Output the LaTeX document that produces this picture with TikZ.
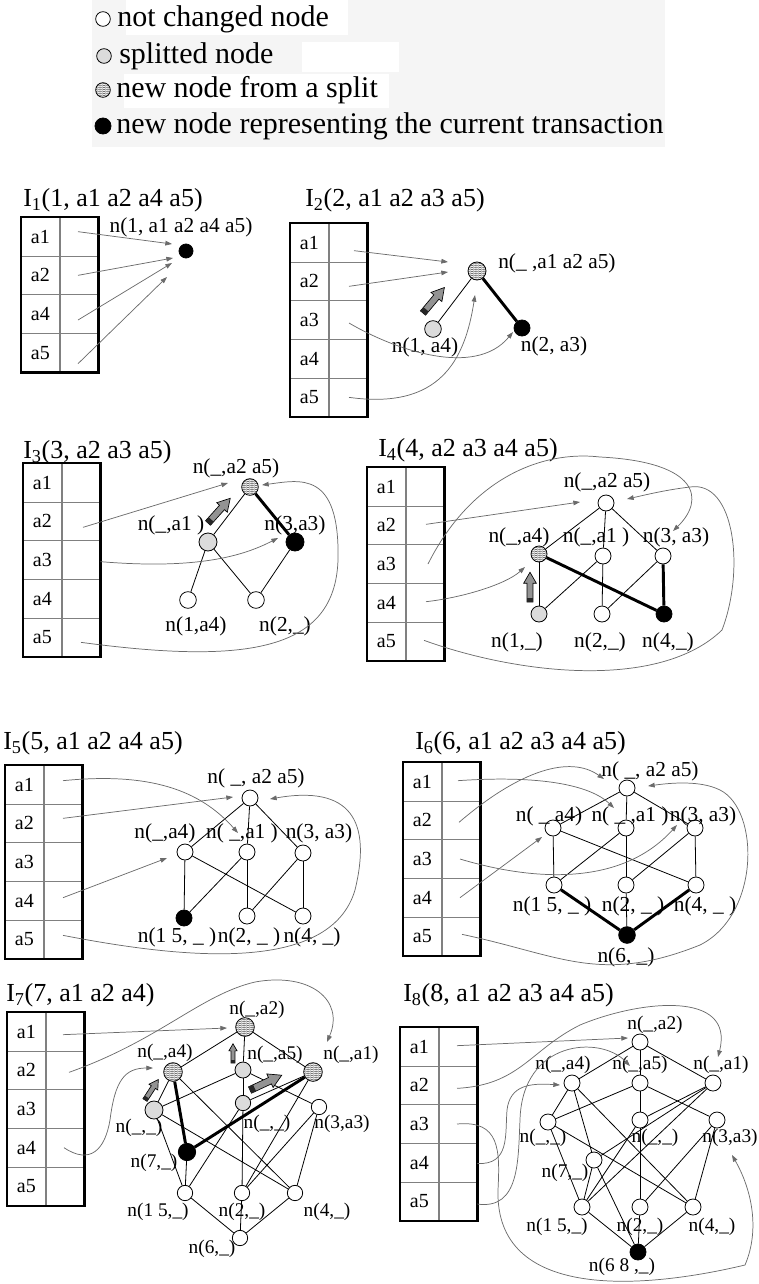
\documentclass[tikz,border=0pt]{standalone}
\usepackage{fontspec}
\setmainfont{Liberation Serif}
\usetikzlibrary{arrows.meta, positioning, calc, shapes.geometric, patterns.meta}

\tikzdeclarepattern{
  name=zigzag,
  type=uncolored,
  bounding box={(0pt,-0.3pt) and (2pt,1.3pt)},
  tile size={(2pt,1.5pt)},
  code={\draw[line width=0.3pt] (0pt,0pt) -- (1pt,0.9pt) -- (2pt,0pt);}
}

\tikzset{
  splitarrow/.pic={
    \draw[fill=gray!85, line width=0.5pt] (0,-3.5) -- (22,-3.5) -- (22,-7.5) -- (35,0) -- (22,7.5) -- (22,3.5) -- (0,3.5) -- cycle;
    \fill[black!85] (0,-3.5) rectangle (5,3.5);
  }
}

\begin{document}
\begin{tikzpicture}[
  x=0.75pt, y=-0.75pt,
  every node/.style={inner sep=0pt},
  lbl/.style={font=\rmfamily\fontsize{16}{18}\selectfont},
  slbl/.style={font=\rmfamily\fontsize{14.5}{16}\selectfont},
  ttl/.style={font=\rmfamily\fontsize{19.5}{22}\selectfont, anchor=west},
  lgtext/.style={font=\rmfamily\fontsize{22.5}{25}\selectfont, anchor=west},
  lat/.style={circle, draw, line width=0.6pt, minimum size=12pt, fill=white},
  kept/.style={lat},
  splitted/.style={lat, fill=gray!28},
  fresh/.style={lat, preaction={fill=white}, pattern=zigzag, pattern color=black!75},
  current/.style={lat, fill=black},
  ov/.style={ellipse, minimum width=#1},
  edge/.style={line width=0.6pt},
  heavy/.style={line width=2.2pt},
  ptr/.style={draw=black!58, line width=0.55pt, -{Triangle[length=5pt, width=3.5pt]}},
  key/.style={draw=black!50, line width=0.5pt, minimum width=28.5pt, minimum height=29pt,
    font=\rmfamily\fontsize{15}{17}\selectfont, anchor=north west},
  slot/.style={draw=black!50, line width=0.5pt, minimum width=28.5pt, minimum height=29pt, anchor=north west},
  frame/.style={line width=1.9pt},
]
\useasboundingbox (0,0) rectangle (759,1284);

% legend
\fill[black!4] (92,0) rectangle (665,147);
\fill[white] (126,0) rectangle (348,35);
\fill[white] (302,42) rectangle (399,72);
\fill[white] (124,74) rectangle (389,108);
\node[kept, minimum size=11pt] (lg1) at (103,19) {};
\node[splitted, minimum size=11pt] (lg2) at (104,56) {};
\node[fresh, minimum size=11pt] (lg3) at (103,90) {};
\node[current, minimum size=12pt] (lg4) at (103,126) {};
\node[lgtext] (lt1) at (117,19) {not changed node};
\node[lgtext] (lt2) at (119,56) {splitted node};
\node[lgtext] (lt3) at (116,90) {new node from a split};
\node[lgtext] (lt4) at (116,126) {new node representing the current transaction};

% I1
\node[ttl] (h1) at (23,200) {I\textsubscript{1}(1, a1 a2 a4 a5)};
\foreach \k [count=\i from 0] in {a1,a2,a4,a5}{
  \node[key] (k1\k) at (21,{217+38.67*\i}) {\k};
  \node[slot, right=0pt of k1\k] (p1\k) {};
}
\draw[frame] (k1a1.north west) rectangle (p1a5.south east);
\node[current, minimum size=10.5pt] (n1) at (186,251) {};
\node[lbl] (l1) at (181,227) {n(1, a1 a2 a4 a5)};
\draw[ptr] ($(p1a1)+(-1,-5)$) -- ($(n1)+(-14,-7)$);
\draw[ptr] ($(p1a2)+(-1,0)$) -- ($(n1)+(-13,7)$);
\draw[ptr] ($(p1a4)+(-1,6)$) -- ($(n1)+(-14,12)$);
\draw[ptr] ($(p1a5)+(-1,11)$) -- ($(n1)+(-19,26)$);

% I2
\node[ttl] (h2) at (305,200) {I\textsubscript{2}(2, a1 a2 a3 a5)};
\foreach \k [count=\i from 0] in {a1,a2,a3,a4,a5}{
  \node[key] (k2\k) at (290,{223+38.67*\i}) {\k};
  \node[slot, right=0pt of k2\k] (p2\k) {};
}
\draw[frame] (k2a1.north west) rectangle (p2a5.south east);
\node[fresh, minimum size=13.5pt] (f2) at (477,271) {};
\node[splitted, minimum size=12.5pt] (s2) at (433,329) {};
\node[current, minimum size=12pt] (c2) at (522,328) {};
\node[lbl, anchor=west] (lf2) at (498,263) {n(\_ ,a1 a2 a5)};
\node[lbl] (ls2) at (425,347) {n(1, a4)};
\node[lbl] (lc2) at (554,346) {n(2, a3)};
\draw[edge] (s2) -- (f2);
\draw[heavy] (f2) -- (c2);
\pic[rotate=50, scale=0.95] at (423,313) {splitarrow};
\draw[ptr] ($(p2a1)+(6,8)$) -- ($(f2)+(-29,-9)$);
\draw[ptr] ($(p2a2)+(1,5)$) -- ($(f2)+(-29,1)$);
\draw[ptr] ($(p2a3)+(1,3)$) .. controls (395,350) and (475,378) .. ($(c2)+(-9,4)$);
\draw[ptr] ($(p2a5)+(1,0)$) .. controls (440,410) and (465,360) .. ($(f2)+(-2,24)$);

% I3
\node[ttl] (h3) at (23,452) {I\textsubscript{3}(3, a2 a3 a5)};
\foreach \k [count=\i from 0] in {a1,a2,a3,a4,a5}{
  \node[key] (k3\k) at (23,{463+38.67*\i}) {\k};
  \node[slot, right=0pt of k3\k] (p3\k) {};
}
\draw[frame] (k3a1.north west) rectangle (p3a5.south east);
\node[fresh, minimum size=12.5pt] (f3) at (250,487) {};
\node[splitted, minimum size=13.5pt] (s3) at (208,542) {};
\node[current, minimum size=13.5pt] (c3) at (295,542) {};
\node[kept, minimum size=12.5pt] (o3a) at (188,600) {};
\node[kept, minimum size=12.5pt] (o3b) at (256,600) {};
\node[lbl] (lf3) at (236,468) {n(\_,a2 a5)};
\node[lbl] (ls3) at (171,525) {n(\_,a1 )};
\node[lbl] (lc3) at (295,525) {n(3,a3)};
\node[lbl] (lo3a) at (196,626) {n(1,a4)};
\node[lbl] (lo3b) at (285,626) {n(2,\_)};
\draw[edge] (s3) -- (f3);
\draw[heavy] (f3) -- (c3);
\draw[edge] (s3) -- (o3a);
\draw[edge] (s3) -- (o3b);
\draw[edge] (c3) -- (o3b);
\pic[rotate=48, scale=0.95] at (208,523) {splitarrow};
\draw[ptr] ($(p3a2)+(2,6)$) -- ($(f3)+(-22,-4)$);
\draw[ptr] (p3a3) .. controls (200,570) and (245,555) .. ($(c3)+(-17,-4)$);
\draw[ptr] ($(p3a5)+(0,5)$) .. controls (250,665) and (335,650) .. (338,560)
  .. controls (340,470) and (300,480) .. ($(f3)+(12,-2)$);

% I4
\node[ttl] (h4) at (378,450) {I\textsubscript{4}(4, a2 a3 a4 a5)};
\foreach \k [count=\i from 0] in {a1,a2,a3,a4,a5}{
  \node[key] (k4\k) at (367,{467+38.67*\i}) {\k};
  \node[slot, right=0pt of k4\k] (p4\k) {};
}
\draw[frame] (k4a1.north west) rectangle (p4a5.south east);
\node[kept] (t4) at (606,503) {};
\node[fresh] (f4) at (539,554) {};
\node[kept] (m4) at (603,556) {};
\node[kept] (r4) at (663,556) {};
\node[splitted] (s4) at (539,614) {};
\node[kept] (b4) at (602,614) {};
\node[current] (c4) at (664,614) {};
\node[lbl] (lt4a) at (607,482) {n(\_,a2 a5)};
\node[lbl] (lf4) at (519,537) {n(\_,a4)};
\node[lbl] (lm4) at (596,537) {n(\_,a1 )};
\node[lbl] (lr4) at (676,537) {n(3, a3)};
\node[lbl] (ls4) at (517,642) {n(1,\_)};
\node[lbl] (lb4) at (600,642) {n(2,\_)};
\node[lbl] (lc4) at (668,642) {n(4,\_)};
\draw[edge] (t4) -- (f4);
\draw[edge] (t4) -- (m4);
\draw[edge] (t4) -- (r4);
\draw[edge] (f4) -- (s4);
\draw[edge] (m4) -- (s4);
\draw[edge] (m4) -- (b4);
\draw[edge] (r4) -- (b4);
\draw[heavy] (f4) -- (c4);
\draw[heavy] (r4) -- (c4);
\pic[rotate=90, scale=0.85] at (530,602) {splitarrow};
\draw[ptr] ($(p4a2)+(1,-1)$) -- ($(t4)+(-26,-1)$);
\draw[ptr] ($(p4a3)+(3,0)$) .. controls (470,480) and (540,450) .. (600,457)
  .. controls (700,462) and (705,500) .. ($(r4)+(10,-25)$);
\draw[ptr] ($(p4a4)+(1,-1)$) .. controls (460,598) and (505,585) .. ($(f4)+(-14,13)$);
\draw[ptr] ($(p4a5)+(-1,-1)$) .. controls (520,675) and (660,690) .. (722,630)
  .. controls (745,570) and (735,480) .. (690,487)
  .. controls (665,490) and (645,495) .. ($(t4)+(21,-4)$);

% I5
\node[ttl] (h5) at (3,743) {I\textsubscript{5}(5, a1 a2 a4 a5)};
\foreach \k [count=\i from 0] in {a1,a2,a3,a4,a5}{
  \node[key] (k5\k) at (5,{765+38.67*\i}) {\k};
  \node[slot, right=0pt of k5\k] (p5\k) {};
}
\draw[frame] (k5a1.north west) rectangle (p5a5.south east);
\begin{scope}[every node/.append style={ov=10pt, minimum height=11.5pt}]
  \node[kept] (t5) at (250,798) {};
  \node[kept] (l5) at (185,852) {};
  \node[kept] (m5) at (247,852) {};
  \node[kept] (r5) at (303,853) {};
  \node[current] (bl5) at (184,918) {};
  \node[kept] (bm5) at (247,916) {};
  \node[kept] (br5) at (303,916) {};
\end{scope}
\node[lbl] (lt5) at (256,778) {n( \_, a2 a5)};
\node[lbl] (ll5) at (165,833) {n(\_,a4)};
\node[lbl] (lm5) at (242,833) {n( \_,a1 )};
\node[lbl] (lr5) at (319,833) {n(3, a3)};
\node[lbl] (lbl5) at (177,937) {n(1 5, \_ )};
\node[lbl] (lbm5) at (249,937) {n(2, \_ )};
\node[lbl] (lbr5) at (312,937) {n(4, \_)};
\draw[edge] (t5) -- (l5);
\draw[edge] (t5) -- (m5);
\draw[edge] (t5) -- (r5);
\draw[edge] (l5) -- (bl5);
\draw[edge] (l5) -- (br5);
\draw[edge] (m5) -- (bl5);
\draw[edge] (m5) -- (bm5);
\draw[edge] (r5) -- (bm5);
\draw[edge] (r5) -- (br5);
\draw[ptr] ($(p5a1)+(0,-4)$) .. controls (150,772) and (200,790) .. ($(m5)+(-9,-19)$);
\draw[ptr] ($(p5a2)+(0,-5)$) -- ($(t5)+(-17,-1)$);
\draw[ptr] ($(p5a4)+(0,-3)$) -- ($(l5)+(-18,6)$);
\draw[ptr] ($(p5a5)+(0,-4)$) .. controls (180,958) and (330,975) .. (355,890)
  .. controls (372,820) and (350,785) .. ($(t5)+(20,1)$);

% I6
\node[ttl] (h6) at (415,743) {I\textsubscript{6}(6, a1 a2 a3 a4 a5)};
\foreach \k [count=\i from 0] in {a1,a2,a3,a4,a5}{
  \node[key] (k6\k) at (403,{762+38.67*\i}) {\k};
  \node[slot, right=0pt of k6\k] (p6\k) {};
}
\draw[frame] (k6a1.north west) rectangle (p6a5.south east);
\begin{scope}[every node/.append style={ov=11.25pt, minimum height=13.5pt}]
  \node[kept] (t6) at (627,788) {};
  \node[kept] (l6) at (553,828) {};
  \node[kept] (m6) at (626,828) {};
  \node[kept] (r6) at (695,828) {};
  \node[kept] (bl6) at (554,885) {};
  \node[kept] (bm6) at (626,885) {};
  \node[kept] (br6) at (696,885) {};
  \node[current, minimum height=12.5pt] (k6) at (627,935) {};
\end{scope}
\node[lbl] (lt6) at (650,771) {n( \_, a2 a5)};
\node[lbl] (ll6) at (549,816) {n( \_ a4)};
\node[lbl] (lm6) at (630,816) {n( \_ ,a1 )};
\node[lbl] (lr6) at (703,816) {n(3, a3)};
\node[lbl] (lbl6) at (552,906) {n(1 5, \_ )};
\node[lbl] (lbm6) at (633,906) {n(2, \_ )};
\node[lbl] (lbr6) at (705,906) {n(4, \_ )};
\node[lbl] (lk6) at (626,957) {n(6, \_)};
\draw[edge] (t6) -- (l6);
\draw[edge] (t6) -- (m6);
\draw[edge] (t6) -- (r6);
\draw[edge] (l6) -- (bl6);
\draw[edge] (l6) -- (br6);
\draw[edge] (m6) -- (bl6);
\draw[edge] (m6) -- (bm6);
\draw[edge] (r6) -- (bm6);
\draw[edge] (r6) -- (br6);
\draw[edge] (bm6) -- (k6);
\draw[heavy] (bl6) -- (k6);
\draw[heavy] (br6) -- (k6);
\draw[ptr] ($(p6a1)+(-3,-1)$) .. controls (540,775) and (590,785) .. ($(m6)+(-12,-20)$);
\draw[ptr] ($(p6a2)+(-2,2)$) .. controls (520,770) and (570,755) .. ($(t6)+(-23,-9)$);
\draw[ptr] ($(p6a3)+(-1,0)$) .. controls (530,880) and (620,888) .. ($(r6)+(-18,-3)$);
\draw[ptr] ($(p6a4)+(-1,0)$) -- ($(l6)+(-11,9)$);
\draw[ptr] ($(p6a5)+(1,-2)$) .. controls (560,955) and (600,985) .. (700,945)
  .. controls (760,915) and (760,810) .. (720,790)
  .. controls (700,780) and (670,783) .. ($(t6)+(21,-2)$);

% I7
\node[ttl] (h7) at (6,995) {I\textsubscript{7}(7, a1 a2 a4)};
\foreach \k [count=\i from 0] in {a1,a2,a3,a4,a5}{
  \node[key] (k7\k) at (7,{1012+38.67*\i}) {\k};
  \node[slot, right=0pt of k7\k] (p7\k) {};
}
\draw[frame] (k7a1.north west) rectangle (p7a5.south east);
\node[fresh, minimum size=14pt] (t7) at (245,1027) {};
\node[fresh, minimum size=14pt] (l7) at (173,1072) {};
\node[splitted, minimum size=12pt] (m7) at (243,1070) {};
\node[fresh, minimum size=14pt] (r7) at (313,1072) {};
\node[splitted, minimum size=13.5pt] (l7b) at (154,1110) {};
\node[splitted, minimum size=11.5pt] (m7b) at (243,1103) {};
\node[kept, minimum size=11.5pt] (r7b) at (319,1107) {};
\node[current, minimum size=13pt] (k7) at (187,1152) {};
\node[kept, minimum size=11.5pt] (bl7) at (185,1193) {};
\node[kept, minimum size=11.5pt] (bm7) at (242,1193) {};
\node[kept, minimum size=11.5pt] (br7) at (295,1193) {};
\node[kept, minimum size=11.5pt] (b7) at (240,1238) {};
\node[slbl] (lt7) at (257,1010) {n(\_,a2)};
\node[slbl] (ll7) at (165,1053) {n(\_,a4)};
\node[slbl] (lm7) at (275,1055) {n(\_,a5)};
\node[slbl] (lr7) at (351,1055) {n(\_,a1)};
\node[slbl] (ll7b) at (139,1128) {n(\_,\_)};
\node[slbl] (lm7b) at (267,1124) {n(\_,\_)};
\node[slbl] (lr7b) at (342,1124) {n(3,a3)};
\node[slbl] (lk7) at (154,1163) {n(7,\_)};
\node[slbl] (lbl7) at (158,1212) {n(1 5,\_)};
\node[slbl] (lbm7) at (242,1212) {n(2,\_)};
\node[slbl] (lbr7) at (327,1212) {n(4,\_)};
\node[slbl] (lb7) at (212,1249) {n(6,\_)};
\draw[edge] (t7) -- (l7);
\draw[edge] (t7) -- (m7);
\draw[edge] (t7) -- (r7);
\draw[edge] (l7) -- (l7b);
\draw[edge] (l7) -- (br7);
\draw[edge] (m7) -- (l7b);
\draw[edge] (m7) -- (m7b);
\draw[edge] (m7) -- (r7b);
\draw[edge] (r7) -- (m7b);
\draw[edge] (r7) -- (bm7);
\draw[edge] (l7b) -- (bl7);
\draw[edge] (l7b) -- (br7);
\draw[edge] (m7b) -- (bl7);
\draw[edge] (m7b) -- (bm7);
\draw[edge] (r7b) -- (bm7);
\draw[edge] (r7b) -- (br7);
\draw[edge] (k7) -- (bl7);
\draw[edge] (bl7) -- (b7);
\draw[edge] (bm7) -- (b7);
\draw[edge] (br7) -- (b7);
\draw[heavy] (l7) -- (k7);
\draw[heavy] (r7) -- (k7);
\pic[rotate=57, scale=0.7] at (145,1100) {splitarrow};
\pic[rotate=90, scale=0.55] at (233,1063) {splitarrow};
\pic[rotate=25, scale=1] at (250,1090) {splitarrow};
\draw[ptr] ($(p7a1)+(-2,3)$) -- ($(t7)+(-18,1)$);
\draw[ptr] ($(p7a2)+(4,2)$) .. controls (160,1040) and (200,995) .. (255,982)
  .. controls (310,972) and (345,1000) .. ($(r7)+(14,-30)$);
\draw[ptr] ($(p7a4)+(-1,0)$) .. controls (90,1165) and (105,1150) .. (110,1120)
  .. controls (115,1080) and (125,1068) .. ($(l7)+(-20,-4)$);

% I8
\node[ttl] (h8) at (403,995) {I\textsubscript{8}(8, a1 a2 a3 a4 a5)};
\foreach \k [count=\i from 0] in {a1,a2,a3,a4,a5}{
  \node[key] (k8\k) at (400,{1027+38.67*\i}) {\k};
  \node[slot, right=0pt of k8\k] (p8\k) {};
}
\draw[frame] (k8a1.north west) rectangle (p8a5.south east);
\begin{scope}[every node/.append style={minimum size=11.5pt}]
  \node[kept] (t8) at (640,1042) {};
  \node[kept] (l8) at (572,1083) {};
  \node[kept] (m8) at (640,1083) {};
  \node[kept] (r8) at (713,1083) {};
  \node[kept] (l8b) at (548,1122) {};
  \node[kept] (m8b) at (640,1120) {};
  \node[kept] (r8b) at (717,1120) {};
  \node[kept] (k8) at (594,1160) {};
  \node[kept] (bl8) at (582,1207) {};
  \node[kept] (bm8) at (640,1207) {};
  \node[kept] (br8) at (693,1207) {};
  \node[current] (b8) at (638,1252) {};
\end{scope}
\node[slbl] (lt8) at (655,1025) {n(\_,a2)};
\node[slbl] (ll8) at (563,1065) {n(\_,a4)};
\node[slbl] (lm8) at (640,1065) {n(\_,a5)};
\node[slbl] (lr8) at (721,1065) {n(\_,a1)};
\node[slbl] (ll8b) at (543,1138) {n(\_,\_)};
\node[slbl] (lm8b) at (655,1138) {n(\_,\_)};
\node[slbl] (lr8b) at (730,1138) {n(3,a3)};
\node[slbl] (lk8) at (565,1173) {n(7,\_)};
\node[slbl] (lbl8) at (557,1227) {n(1 5,\_)};
\node[slbl] (lbm8) at (640,1227) {n(2,\_)};
\node[slbl] (lbr8) at (712,1227) {n(4,\_)};
\node[slbl] (lb8) at (622,1267) {n(6 8 ,\_)};
\draw[edge] (t8) -- (l8);
\draw[edge] (t8) -- (m8);
\draw[edge] (t8) -- (r8);
\draw[edge] (l8) -- (l8b);
\draw[edge] (l8) -- (k8);
\draw[edge] (l8) -- (br8);
\draw[edge] (m8) -- (l8b);
\draw[edge] (m8) -- (m8b);
\draw[edge] (m8) -- (r8b);
\draw[edge] (r8) -- (m8b);
\draw[edge] (r8) -- (k8);
\draw[edge] (r8) -- (bl8);
\draw[edge] (l8b) -- (bl8);
\draw[edge] (l8b) -- (br8);
\draw[edge] (m8b) -- (bl8);
\draw[edge] (m8b) -- (bm8);
\draw[edge] (r8b) -- (bm8);
\draw[edge] (r8b) -- (br8);
\draw[edge] (k8) -- (bl8);
\draw[edge] (k8) -- (b8);
\draw[edge] (bl8) -- (b8);
\draw[edge] (bm8) -- (b8);
\draw[edge] (br8) -- (b8);
\draw[ptr] ($(p8a1)+(-1,-1)$) -- ($(t8)+(-12,-4)$);
\draw[ptr] ($(p8a2)+(-1,3)$) .. controls (520,1085) and (530,1050) .. (580,1025)
  .. controls (640,1000) and (735,990) .. ($(r8)+(5,-26)$);
\draw[ptr] ($(p8a3)+(-1,0)$) .. controls (500,1120) and (500,1150) .. (498,1190)
  .. controls (495,1300) and (640,1290) .. (745,1265)
  .. controls (760,1230) and (752,1190) .. ($(r8b)+(15,35)$);
\draw[ptr] (p8a4) .. controls (510,1165) and (505,1135) .. (507,1110)
  .. controls (510,1085) and (530,1083) .. ($(l8)+(-12,2)$);
\draw[ptr] (p8a5) .. controls (520,1210) and (518,1160) .. (520,1120)
  .. controls (522,1040) and (600,1035) .. ($(m8)+(-10,-17)$);
\end{tikzpicture}
\end{document}
